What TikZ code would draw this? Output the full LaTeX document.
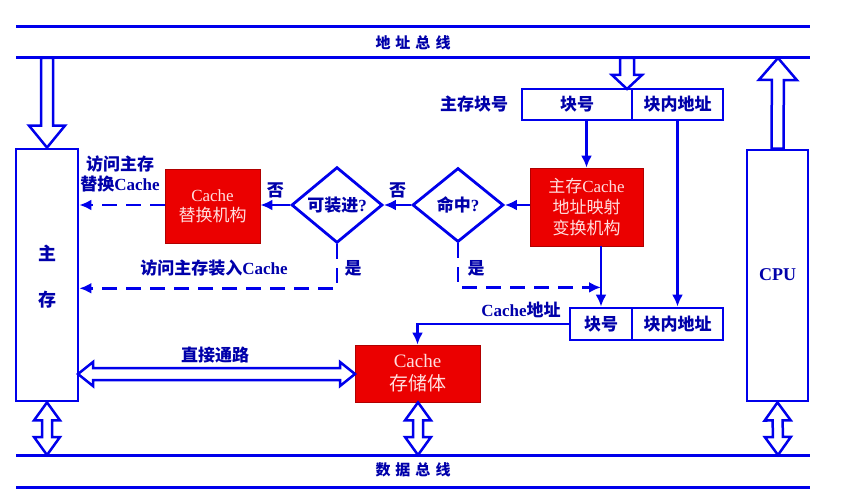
\documentclass[tikz,border=0pt]{standalone}
\usepackage{fontspec}
\setmainfont{Liberation Serif}
\newfontfamily\cjk{Noto Sans CJK SC}
\usetikzlibrary{shapes.geometric,calc,arrows.meta}
\definecolor{lineblue}{RGB}{0,0,235}
\definecolor{lblue}{RGB}{0,0,170}
\definecolor{boxred}{RGB}{235,0,0}
\definecolor{boxtxt}{RGB}{255,222,222}
\newcommand{\zh}[1]{{\cjk #1}}
% single hollow arrow: tail, tip, shaft half width, head half width, head length
\newcommand{\hollowone}[5]{%
  \coordinate (hq) at ($(#2)!#5pt!(#1)$);
  \draw[hollow] ($(#1)!#3pt!90:(#2)$) -- ($(hq)!#3pt!90:(#2)$) -- ($(hq)!#4pt!90:(#2)$) -- (#2)
     -- ($(hq)!#4pt!-90:(#2)$) -- ($(hq)!#3pt!-90:(#2)$) -- ($(#1)!#3pt!-90:(#2)$) -- cycle;}
% double hollow arrow
\newcommand{\hollowtwo}[5]{%
  \coordinate (hqa) at ($(#1)!#5pt!(#2)$);
  \coordinate (hqb) at ($(#2)!#5pt!(#1)$);
  \draw[hollow] (#1) -- ($(hqa)!#4pt!90:(#2)$) -- ($(hqa)!#3pt!90:(#2)$) -- ($(hqb)!#3pt!90:(#2)$)
     -- ($(hqb)!#4pt!90:(#2)$) -- (#2) -- ($(hqb)!#4pt!-90:(#2)$) -- ($(hqb)!#3pt!-90:(#2)$)
     -- ($(hqa)!#3pt!-90:(#2)$) -- ($(hqa)!#4pt!-90:(#2)$) -- cycle;}
\begin{document}
\begin{tikzpicture}[x=1pt,y=-1pt,
  box/.style={rectangle, draw=lineblue, line width=2.8pt, inner sep=0pt},
  redbox/.style={rectangle, fill=boxred, draw=boxred!75!black, line width=0.8pt, text=boxtxt,
     align=center, inner sep=0pt},
  dia/.style={diamond, draw=lineblue, line width=2.8pt, inner sep=0pt, minimum width=91pt,
     minimum height=74pt, text=lblue, font=\bfseries\fontsize{17}{20}\selectfont},
  lbl/.style={text=lblue, font=\bfseries\fontsize{17}{20}\selectfont, inner sep=0pt, align=center},
  busl/.style={text=lblue, font=\bfseries\fontsize{15}{17}\selectfont, inner sep=0pt},
  bus/.style={draw=lineblue, line width=3pt},
  arr/.style={draw=lineblue, line width=2.8pt, -{Latex[length=12pt,width=11pt]}},
  darr/.style={arr, dash pattern=on 15pt off 9pt},
  hollow/.style={draw=lineblue, fill=white, line width=2.5pt, line join=miter}]
\useasboundingbox (0,0) rectangle (846,503);

% ---------------- nodes
\node[box, minimum width=62, minimum height=252] (mem) at (47,275) {};
\node[lbl, font=\bfseries\fontsize{18}{20}\selectfont] (memA) at (47,253) {\zh{主}};
\node[lbl, font=\bfseries\fontsize{18}{20}\selectfont] (memB) at (47,300) {\zh{存}};
\node[box, minimum width=61, minimum height=251] (cpu) at (777.5,275.5) {};
\node[lbl, font=\bfseries\fontsize{18}{20}\selectfont] (cpuL) at (777.5,275) {CPU};

\node[box, minimum width=110, minimum height=31] (r1a) at (577,104.5) {};
\node[box, minimum width=91, minimum height=31] (r1b) at (677.5,104.5) {};
\node[lbl] at (r1a) {\zh{块号}};
\node[lbl] at (r1b) {\zh{块内地址}};
\node[lbl] (r1lab) at (474,104) {\zh{主存块号}};

\node[box, minimum width=62, minimum height=32] (r2a) at (601,324) {};
\node[box, minimum width=91, minimum height=32] (r2b) at (677.5,324) {};
\node[lbl] at (r2a) {\zh{块号}};
\node[lbl] at (r2b) {\zh{块内地址}};
\node[lbl] (r2lab) at (521,310) {Cache\zh{地址}};

\node[redbox, minimum width=113, minimum height=78, font=\fontsize{17}{21}\selectfont] (map) at (586.5,207)
  {\zh{主存}Cache\\\zh{地址映射}\\\zh{变换机构}};
\node[redbox, minimum width=95, minimum height=74, font=\fontsize{17}{20}\selectfont] (rep) at (212.5,206)
  {Cache\\\zh{替换机构}};
\node[redbox, minimum width=125, minimum height=57, font=\fontsize{19}{23}\selectfont] (cst) at (417.5,373.5)
  {Cache\\\zh{存储体}};

\node[dia] (hit) at (458,205) {\zh{命中}?};
\node[dia] (fit) at (337,205) {\zh{可装进}?};

% ---------------- buses
\draw[bus] (16,27) -- (810,27);
\draw[bus] (16,58) -- (810,58);
\draw[bus] (16,455) -- (810,455);
\draw[bus] (16,487) -- (810,487);
\node[busl] (abus) at (413,43) {\zh{地\hspace{5pt}址\hspace{5pt}总\hspace{5pt}线}};
\node[busl] (dbus) at (413,470) {\zh{数\hspace{5pt}据\hspace{5pt}总\hspace{5pt}线}};

\coordinate (tA) at (47,58);
\coordinate (tB) at (627,58);
\coordinate (tBe) at (627,89);
\coordinate (tC) at (778,58);
\coordinate (bA) at (47,455);
\coordinate (bB) at (418,455);
\coordinate (bC) at (778,455);

% ---------------- hollow arrows
\hollowone{tA}{mem.north}{6}{18}{22}
\hollowone{tB}{tBe}{7}{15}{14}
\hollowone{cpu.north}{tC}{6}{19}{22}
\hollowtwo{mem.south}{bA}{5}{13}{18}
\hollowtwo{cst.south -| bB}{bB}{5}{13}{18}
\hollowtwo{cpu.south}{bC}{5}{13}{18}
\coordinate (dpA) at (78,374);
\coordinate (dpB) at (355,374);
\hollowtwo{dpA}{dpB}{6}{12}{15}
\node[lbl] (dlab) at (215,355) {\zh{直接通路}};

% ---------------- connectors
\draw[arr] (map.north |- r1a.south) -- (map.north);
\draw[arr] (map.west |- hit.east) -- (hit.east);
\draw[arr] (hit.west) -- (fit.east) node[lbl, midway, above=6pt] {\zh{否}};
\draw[arr] (fit.west) -- (fit.west -| rep.east) node[lbl, midway, above=6pt] {\zh{否}};
\draw[darr] (rep.west |- fit.west) -- (fit.west -| mem.east);
\node[lbl] (replab) at (120,174) {\zh{访问主存}\\\zh{替换}Cache};

\coordinate (j1) at ($(hit.south)+(0,44)$);
\draw[darr] (hit.south) -- (j1) -- (j1 -| r2a.north);
\node[lbl] (y1) at (476,268) {\zh{是}};
\coordinate (j2) at ($(fit.south)+(0,44)$);
\draw[darr] (fit.south) -- (j2) -- (j2 -| mem.east);
\node[lbl] (y2) at (353,268) {\zh{是}};
\node[lbl] (loadlab) at (214,268) {\zh{访问主存装入}Cache};

\draw[arr] (map.south -| r2a.north) -- (r2a.north);
\draw[arr] (r1b.south) -- (r2b.north);
\draw[arr] (r2a.west) -- (r2a.west -| cst.north) -- (cst.north);
\end{tikzpicture}
\end{document}
